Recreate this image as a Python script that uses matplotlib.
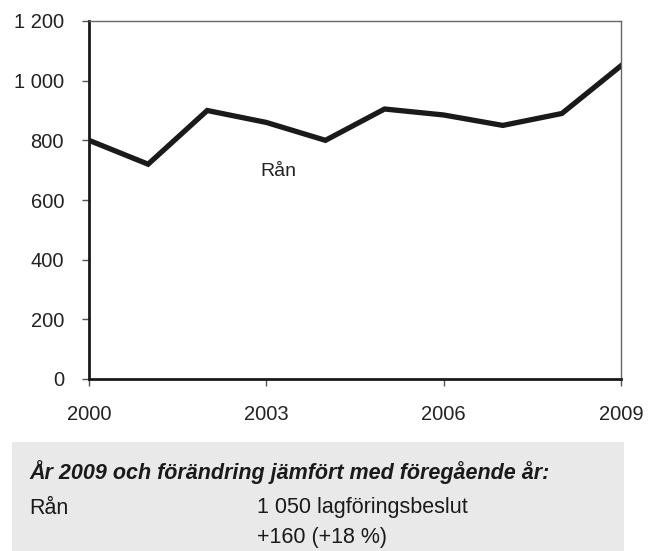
import matplotlib
matplotlib.use("Agg")
import matplotlib.pyplot as plt
from matplotlib.patches import Rectangle

plt.rcParams['font.family'] = ['Liberation Sans', 'DejaVu Sans']

years = [2000, 2001, 2002, 2003, 2004, 2005, 2006, 2007, 2008, 2009]
ran = [800, 720, 900, 860, 800, 905, 885, 850, 890, 1050]
x_ticks = [2000, 2003, 2006, 2009]
y_ticks = [0, 200, 400, 600, 800, 1000, 1200]
y_labels = ["0", "200", "400", "600", "800", "1 000", "1 200"]
series_label = "Rån"
box_header = "År 2009 och förändring jämfört med föregående år:"
box_name = "Rån"
box_value = "1 050 lagföringsbeslut"
box_change = "+160 (+18 %)"

W, H = 660, 551
fig = plt.figure(figsize=(W / 100, H / 100), dpi=100)
ax = fig.add_axes([89 / W, 1 - 379 / H, (621 - 89) / W, (379 - 21) / H])

ax.plot(years, ran, color="#1a1a1a", lw=3.8, solid_joinstyle="miter")
ax.text(2003.2, 697, series_label, fontsize=14, color="#222222", ha="center", va="center")

ax.set_xlim(2000, 2009)
ax.set_ylim(0, 1200)
ax.set_xticks(x_ticks)
ax.set_xticklabels([str(y) for y in x_ticks])
ax.set_yticks(y_ticks)
ax.set_yticklabels(y_labels)
ax.tick_params(axis="both", direction="out", length=5, width=1, color="#555555",
               labelsize=14.5, labelcolor="#222222")
ax.tick_params(axis="y", pad=13)
ax.tick_params(axis="x", pad=14)

for s in ["left", "bottom"]:
    ax.spines[s].set_color("#1a1a1a")
    ax.spines[s].set_linewidth(2)
for s in ["top", "right"]:
    ax.spines[s].set_color("#666666")
    ax.spines[s].set_linewidth(1)

# info box under the chart
fig.patches.append(Rectangle((12 / W, 0), (624 - 12) / W, (551 - 442) / H,
                             transform=fig.transFigure, facecolor="#e9e9e9",
                             edgecolor="none", zorder=0))
fig.text(29 / W, 1 - 472 / H, box_header, fontsize=15.5, fontweight="bold",
         fontstyle="italic", color="#1a1a1a", va="center")
fig.text(29 / W, 1 - 508 / H, box_name, fontsize=15.5, color="#1a1a1a", va="center")
fig.text(257 / W, 1 - 508 / H, box_value, fontsize=15.5, color="#1a1a1a", va="center")
fig.text(257 / W, 1 - 537 / H, box_change, fontsize=15.5, color="#1a1a1a", va="center")

fig.savefig("out.png", dpi=100)
